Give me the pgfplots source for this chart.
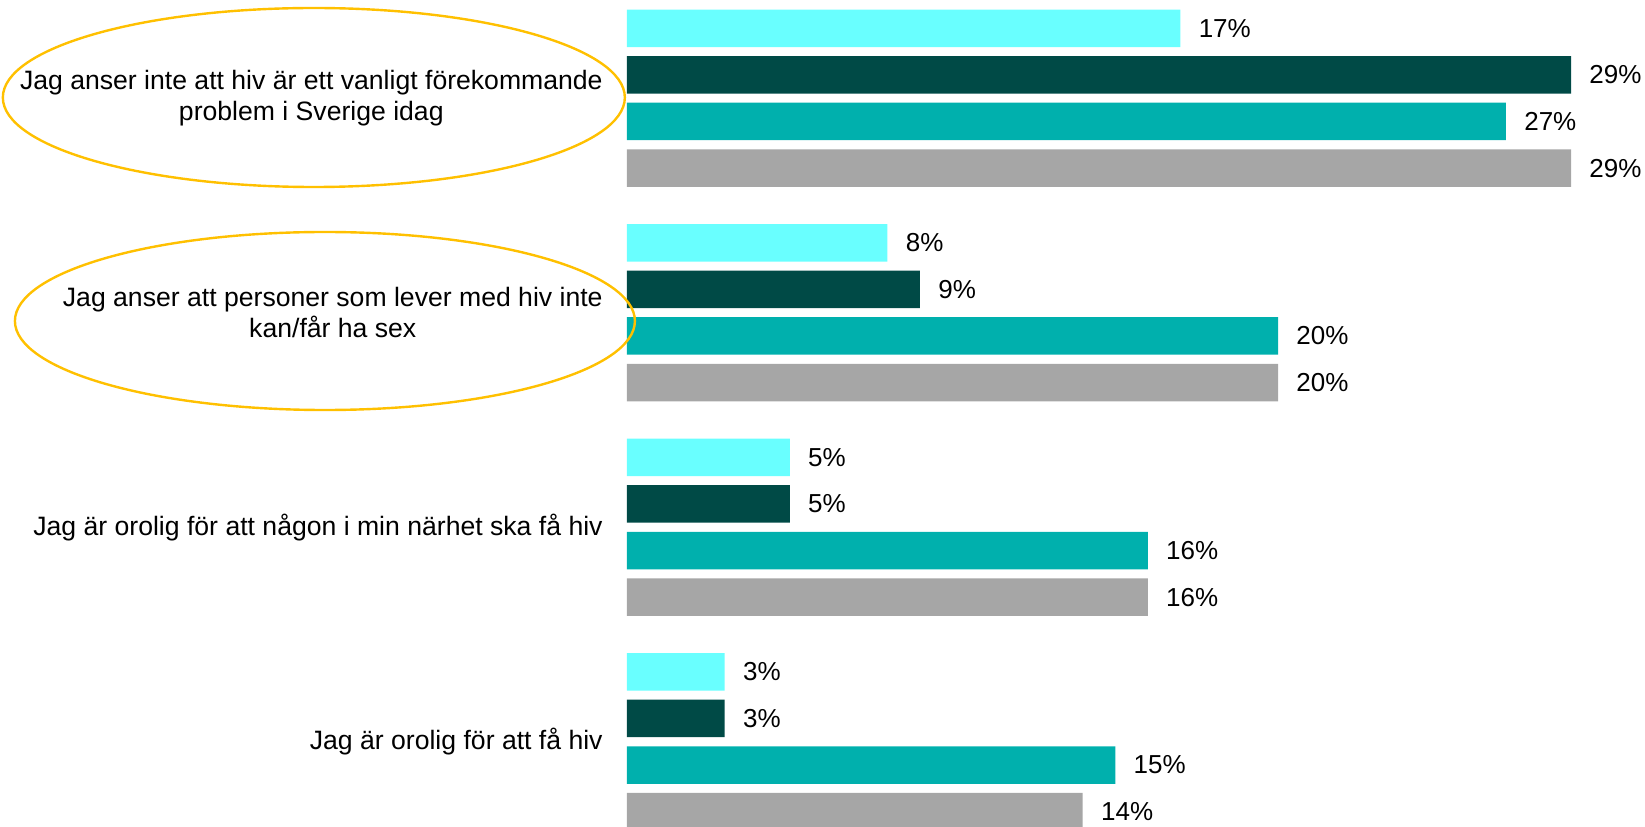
\documentclass[border=0pt]{standalone}
\usepackage{fontspec}
\setmainfont{Liberation Sans}
\usepackage{pgfplots}
\pgfplotsset{compat=1.18}
\definecolor{cyanbar}{HTML}{69FFFF}
\definecolor{darkbar}{HTML}{004A46}
\definecolor{tealbar}{HTML}{00B0AD}
\definecolor{graybar}{HTML}{A6A6A6}
\definecolor{gold}{HTML}{FFC000}
\begin{document}
\begin{tikzpicture}
\begin{axis}[
  at={(313.5pt,0pt)}, anchor=south west,
  scale only axis, width=472pt, height=413pt,
  xmin=0, xmax=29, ymin=-826, ymax=0,
  clip=false,
  xbar, bar shift=0pt, bar width=37.5,
  axis line style={draw=none},
  xtick=\empty,
  ytick={-98.2,-312.7,-527.2,-741.7},
  yticklabels={{Jag anser inte att hiv är ett vanligt förekommande\\problem i Sverige idag},
               {Jag anser att personer som lever med hiv inte\\kan/får ha sex},
               {Jag är orolig för att någon i min närhet ska få hiv},
               {Jag är orolig för att få hiv}},
  yticklabel style={align=center, font=\fontsize{13.3}{15.7}\selectfont, inner sep=0pt, anchor=east, xshift=-12pt},
  major tick length=0pt,
  /pgf/number format/assume math mode=true,
  point meta=x,
  nodes near coords={\pgfmathprintnumber{\pgfplotspointmeta}\%},
  nodes near coords style={anchor=west, inner sep=0pt, xshift=9pt, font=\fontsize{13}{15}\selectfont, text=black},
]
\addplot[fill=cyanbar, draw=none] coordinates {(17,-28.3) (8,-242.8) (5,-457.3) (3,-671.8)};
\addplot[fill=darkbar, draw=none] coordinates {(29,-74.9) (9,-289.4) (5,-503.9) (3,-718.4)};
\addplot[fill=tealbar, draw=none] coordinates {(27,-121.5) (20,-336.0) (16,-550.5) (15,-765.0)};
\addplot[fill=graybar, draw=none] coordinates {(29,-168.1) (20,-382.6) (16,-597.1) (14,-811.6)};
\draw[gold, line width=1.2pt] (axis cs:-9.62,-97.5) ellipse [x radius=155.5pt, y radius=44.75pt];
\draw[gold, line width=1.2pt] (axis cs:-9.28,-321) ellipse [x radius=155pt, y radius=44.5pt];
\end{axis}
\pgfresetboundingbox
\path[use as bounding box] (0,0) rectangle (822.5pt,413pt);
\end{tikzpicture}
\end{document}
